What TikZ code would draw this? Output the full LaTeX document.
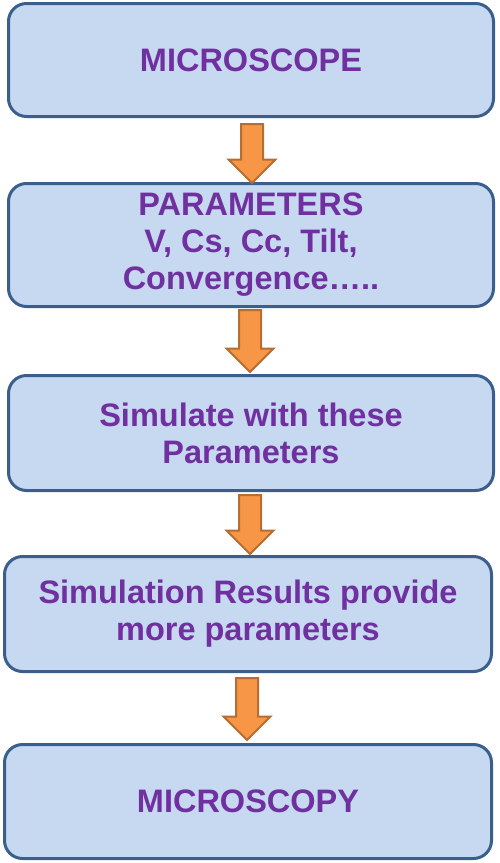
\documentclass[tikz,border=0pt]{standalone}
\usepackage{fontspec}
\setmainfont{Liberation Sans}
\usetikzlibrary{shapes.arrows}
\definecolor{boxfill}{HTML}{C6D9F1}
\definecolor{boxline}{HTML}{3B5F8C}
\definecolor{txt}{HTML}{7030A0}
\definecolor{arrfill}{HTML}{F79646}
\definecolor{arrline}{HTML}{B66D31}
\begin{document}
\begin{tikzpicture}[x=1pt,y=-1pt,
  box/.style={draw=boxline, fill=boxfill, line width=3pt, rounded corners=18pt,
    minimum width=485pt, align=center, text=txt, inner sep=0pt,
    font=\fontsize{32.5}{37}\selectfont\bfseries},
  blockarrow/.style={single arrow, draw=arrline, fill=arrfill, line width=2pt,
    inner sep=10pt, single arrow head extend=12.5pt, minimum height=#1,
    shape border rotate=270, anchor=tail}
]
\useasboundingbox (0,0) rectangle (500,863);
\node (b1) [box, minimum height=113pt] at (251,60) {MICROSCOPE};
\node (b2) [box, minimum height=123pt] at (251,245) {PARAMETERS\\V, Cs, Cc, Tilt,\\Convergence…..};
\node (b3) [box, minimum height=115pt] at (251,433) {Simulate with these\\Parameters};
\node (b4) [box, minimum width=487pt, minimum height=115pt] at (248,614) {Simulation Results provide\\more parameters};
\node (b5) [box, minimum width=487pt, minimum height=114pt] at (248,801.5) {MICROSCOPY};
\node (a1) [blockarrow=59pt] at ([xshift=1pt,yshift=-5pt]b1.south) {};
\node (a2) [blockarrow=62pt] at ([xshift=-1pt,yshift=-1pt]b2.south) {};
\node (a3) [blockarrow=59pt] at ([xshift=-1pt,yshift=-2pt]b3.south) {};
\node (a4) [blockarrow=62pt] at ([xshift=-1pt,yshift=-4pt]b4.south) {};
\end{tikzpicture}
\end{document}
